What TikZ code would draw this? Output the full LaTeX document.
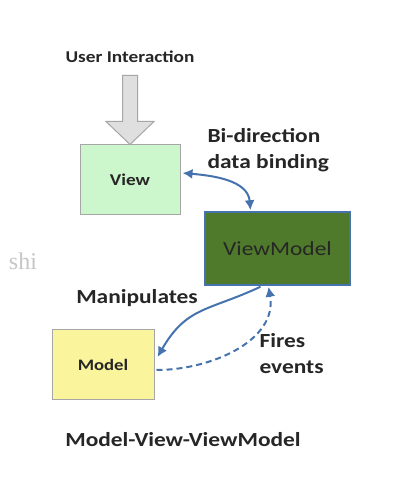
\documentclass[tikz,border=0pt]{standalone}
\usepackage{fontspec}
\setmainfont{Carlito}
\newfontfamily\widefont[FakeStretch=1.17]{Carlito}
\newfontfamily\markfont{Liberation Serif}
\usepackage{tikz}
\usetikzlibrary{arrows.meta,positioning,calc}
\definecolor{viewgreen}{HTML}{CCF7CC}
\definecolor{vmgreen}{HTML}{4F7A2B}
\definecolor{modelyellow}{HTML}{FAF59C}
\definecolor{linkblue}{HTML}{4673AD}
\tikzset{
  box/.style={draw, align=center, line width=1pt},
  viewbox/.style={box, fill=viewgreen, draw=gray!70, minimum width=100pt, minimum height=70pt, font=\widefont\bfseries\fontsize{16.5}{18}\selectfont, text=black!85},
  vmbox/.style={box, fill=vmgreen, draw=linkblue, line width=1.5pt, minimum width=145pt, minimum height=73pt, text=black!85, font=\widefont\fontsize{20}{22}\selectfont},
  modelbox/.style={box, fill=modelyellow, draw=gray!70, minimum width=102pt, minimum height=70pt, font=\widefont\bfseries\fontsize{16}{18}\selectfont, text=black!85},
  lbl/.style={align=left, font=\widefont\bfseries\fontsize{20}{26}\selectfont, text=black!85},
  link/.style={draw=linkblue, line width=2pt, -{Latex[length=10pt,width=10pt]}},
  bigarrow/.style={draw=gray!70, fill=gray!25, line width=1pt}
}
\begin{document}
\begin{tikzpicture}[x=1pt,y=1pt]
    \useasboundingbox[fill=white] (0,0) rectangle (408,486);
    % Nodes
    \node[viewbox] (view) at (130,306) {View};
    \node[vmbox] (vm) at (277.5,237.5) {ViewModel};
    \node[modelbox] (model) at (103,121) {Model};
    \node[font=\widefont\bfseries\fontsize{16.5}{18}\selectfont, text=black!85] (ui) at (130,429) {User Interaction};
    \node[lbl, anchor=west] (bind) at (204,336) {Bi-direction\\data binding};
    \node[lbl] (manip) at (137,188) {Manipulates};
    \node[lbl, anchor=west] (fires) at (256,132) {Fires\\events};
    \node[lbl] (title) at (183,46) {Model-View-ViewModel};
    \node[font=\markfont\fontsize{24}{26}\selectfont, text=gray!45] (shi) at (23,225) {shi};

    % User interaction arrow
    \draw[bigarrow] ($(view.north)+(-7.5,69)$) -- ($(view.north)+(-7.5,23)$)
      -- ($(view.north)+(-24,23)$) -- (view.north) -- ($(view.north)+(24,23)$)
      -- ($(view.north)+(7.5,23)$) -- ($(view.north)+(7.5,69)$) -- cycle;

    % Arrows
    \draw[link, {Latex[length=10pt,width=10pt]}-{Latex[length=10pt,width=10pt]}]
      ($(view.east)+(2,7)$) to[out=-5, in=95] ($(vm.north)+(-27,1)$);
    \draw[link] ($(vm.south)+(-17,-1)$) to[out=205, in=60, looseness=1.2] ($(model.east)+(3,8)$);
    \draw[link, dashed, dash pattern=on 6pt off 4pt] ($(model.east)+(2,-5)$) to[out=0, in=-80] ($(vm.south)+(-9,-1)$);
  \end{tikzpicture}
\end{document}
